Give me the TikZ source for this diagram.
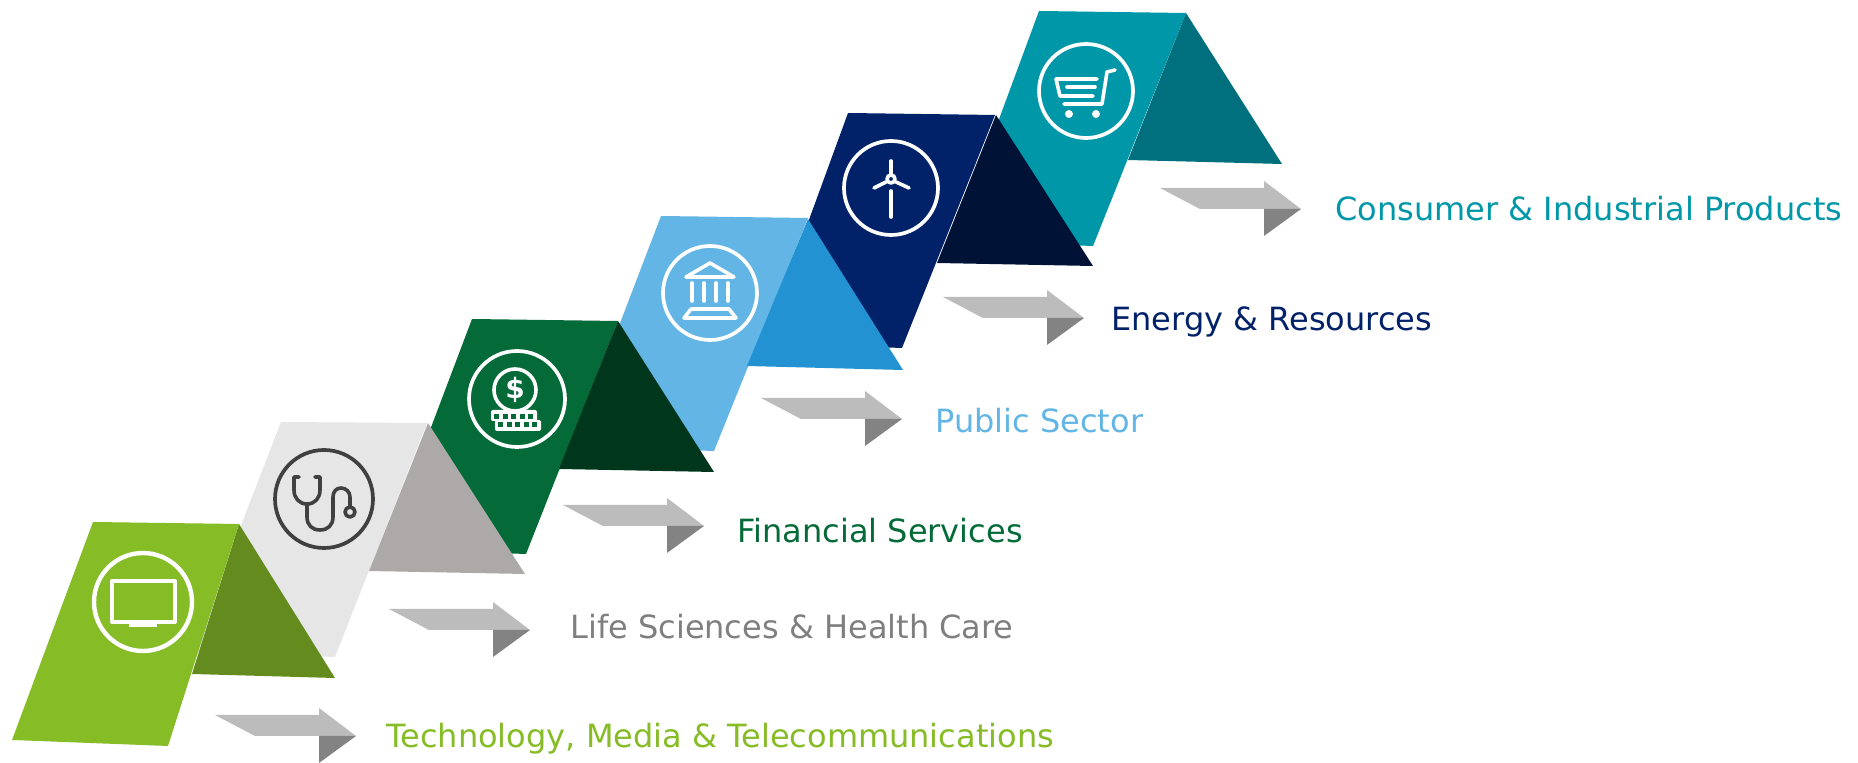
\documentclass[tikz,border=0pt]{standalone}
\usepackage{fontspec}
\setmainfont{DejaVu Sans}
\usepackage{xcolor}
\definecolor{techgreen}{HTML}{86BC25}
\definecolor{techdark}{HTML}{648B1E}
\definecolor{lifegrey}{HTML}{E6E6E6}
\definecolor{lifedark}{HTML}{ADA9A8}
\definecolor{lifetext}{HTML}{7F7F7F}
\definecolor{fingreen}{HTML}{046A38}
\definecolor{findark}{HTML}{00361C}
\definecolor{pubblue}{HTML}{62B5E5}
\definecolor{pubdark}{HTML}{2292D3}
\definecolor{enernavy}{HTML}{012169}
\definecolor{enerdark}{HTML}{001236}
\definecolor{constealc}{HTML}{0097A9}
\definecolor{consdark}{HTML}{00707E}
\definecolor{pointerlight}{HTML}{BCBCBC}
\definecolor{pointerdark}{HTML}{838383}
\definecolor{icongrey}{HTML}{404040}
\tikzset{
        icon/.style = {draw=white, line width=1.8pt, line cap=round, line join=round},
        ring/.style = {icon, line width=1.85pt},
        sector/.style = {anchor=base west, inner sep=0pt, font=\fontsize{16}{19}\selectfont},
        pointer/.pic = {
            \fill[pointerlight] (0,0) -- (104,0) -- (104,-7) -- (141,21) -- (40,21) -- cycle;
            \fill[pointerdark] (104,21) -- (141,21) -- (104,48) -- cycle;
        },
    }

\begin{document}
\begin{tikzpicture}[x=0.5pt,y=-0.5pt]
    \useasboundingbox (0,0) rectangle (1858,763);

    % top step first, each lower step lies over it
    \fill[constealc] (1039,11) -- (1186,13) -- (1093,246) -- (954,241) -- cycle;
    \fill[consdark] (1186,13) -- (1282,164) -- (1128,160) -- cycle;
    \fill[enernavy] (848,113) -- (995,115) -- (902,348) -- (764,343) -- cycle;
    \fill[enerdark] (996,115) -- (1093,266) -- (937,263) -- cycle;
    \fill[pubblue] (661,216) -- (808,218) -- (714,451) -- (573,446) -- cycle;
    \fill[pubdark] (808,219) -- (903,370) -- (747,366) -- cycle;
    \fill[fingreen] (472,319) -- (618,321) -- (526,554) -- (385,549) -- cycle;
    \fill[findark] (618,321) -- (714,472) -- (559,469) -- cycle;
    \fill[lifegrey] (281,422) -- (427,423) -- (335,657) -- (192,652) -- cycle;
    \fill[lifedark] (428,423) -- (525,574) -- (369,571) -- cycle;
    \fill[techdark] (239,524) -- (335,678) -- (192,674) -- cycle;
    \fill[techgreen] (93,522) -- (239,524) -- (168,746) -- (12,740) -- cycle;

    \pic at (215,715) {pointer};
    \pic at (389,609) {pointer};
    \pic at (563,505) {pointer};
    \pic at (761,398) {pointer};
    \pic at (943,297) {pointer};
    \pic at (1160,188) {pointer};

    % screen
    \begin{scope}[shift={(143,602)}]
        \draw[ring, line width=2.2pt] (0,0) circle (49);
        \draw[icon, line width=2pt] (-31,-21) rectangle (32,20);
        \fill[white] (-14,21) rectangle (14,25);
    \end{scope}

    % stethoscope
    \begin{scope}[shift={(324,499)}]
        \draw[ring, draw=icongrey] (0,0) circle (49);
        \draw[icon, draw=icongrey] (-25,-22) -- (-30,-22) -- (-30,-9)
            .. controls (-30,-1) and (-25,5) .. (-17,5)
            .. controls (-9,5) and (-4,-1) .. (-4,-9) -- (-4,-22) -- (-9,-22);
        \draw[icon, draw=icongrey] (-17,5) -- (-17,18)
            .. controls (-17,26) and (-12,31) .. (-4,31)
            .. controls (4,31) and (9,26) .. (9,18) -- (9,-2)
            .. controls (9,-7) and (12,-11) .. (17,-11)
            .. controls (22,-11) and (26,-7) .. (26,-2) -- (26,8);
        \draw[icon, draw=icongrey] (26,13) circle (5);
    \end{scope}

    % coin and keys
    \begin{scope}[shift={(517,399)}]
        \draw[ring] (0,0) circle (48);
        \draw[icon] (-2,-9) circle (21);
        \node[text=white, inner sep=0pt, font=\bfseries\fontsize{14}{16}\selectfont] (dollar) at (-2,-9) {\$};
        \fill[white, rounded corners=1pt] (-26,11) rectangle (20,22);
        \fill[white, rounded corners=1pt] (-22,21) rectangle (24,32);
        \fill[fingreen] (-23,15) rectangle +(5,5);
        \fill[fingreen] (-14,15) rectangle +(5,5);
        \fill[fingreen] (-6,15) rectangle +(5,5);
        \fill[fingreen] (3,15) rectangle +(5,5);
        \fill[fingreen] (11,15) rectangle +(5,5);
        \fill[fingreen] (-19,23) rectangle +(5,5);
        \fill[fingreen] (-10,23) rectangle +(5,5);
        \fill[fingreen] (-2,23) rectangle +(5,5);
        \fill[fingreen] (7,23) rectangle +(5,5);
        \fill[fingreen] (15,23) rectangle +(5,5);
    \end{scope}

    % bank
    \begin{scope}[shift={(710,293)}]
        \draw[ring] (0,0) circle (47);
        \draw[icon] (0,-30) -- (24,-16) -- (-24,-16) -- cycle;
        \draw[icon] (-18,-10) -- (-18,8);
        \draw[icon] (-6,-10) -- (-6,8);
        \draw[icon] (6,-10) -- (6,8);
        \draw[icon] (18,-10) -- (18,8);
        \draw[icon] (-19,16) -- (19,16) -- (26,25) -- (-26,25) -- cycle;
    \end{scope}

    % turbine
    \begin{scope}[shift={(891,188)}]
        \draw[ring] (0,0) circle (47);
        \draw[icon] (0,-9) circle (4);
        \draw[icon] (0,-27) -- (0,-14);
        \draw[icon] (-17,0) -- (-5,-6);
        \draw[icon] (18,0) -- (5,-6);
        \draw[icon] (0,3) -- (0,29);
    \end{scope}

    % cart
    \begin{scope}[shift={(1086,91)}]
        \draw[ring] (0,0) circle (47);
        \draw[icon] (11,-12) -- (-30,-12) -- (-26,5) -- (7,5);
        \draw[icon] (-19,-4) -- (9,-4);
        \draw[icon] (29,-21) -- (21,-19) -- (16,13) -- (-22,13);
        \fill[white] (-17,23) circle (4);
        \fill[white] (10,23) circle (4);
    \end{scope}

    \node[sector, text=techgreen] (tech) at (386,748) {Technology, Media \& Telecommunications};
    \node[sector, text=lifetext] (life) at (570,639) {Life Sciences \& Health Care};
    \node[sector, text=fingreen] (fin) at (737,543) {Financial Services};
    \node[sector, text=pubblue] (pub) at (935,433) {Public Sector};
    \node[sector, text=enernavy] (ener) at (1111,331) {Energy \& Resources};
    \node[sector, text=constealc] (cons) at (1335,221) {Consumer \& Industrial Products};
\end{tikzpicture}
\end{document}
